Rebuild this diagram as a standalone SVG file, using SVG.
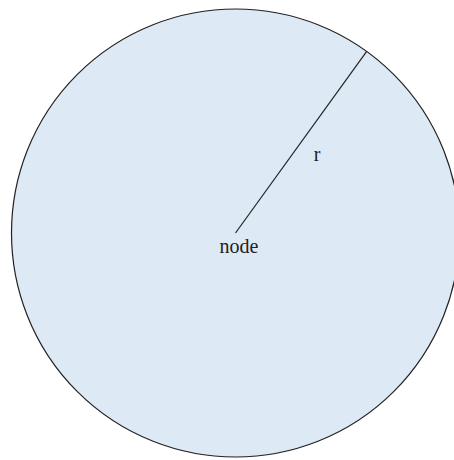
<svg xmlns="http://www.w3.org/2000/svg" width="454" height="460" viewBox="0 0 454 460">
<style>
text{font-family:"Liberation Serif","DejaVu Serif",serif;fill:#222;text-anchor:middle}
</style>
<rect width="454" height="460" fill="#fff"/>
<g id="node">
<circle cx="235.5" cy="233" r="224" fill="#dde9f4" stroke="#222" stroke-width="1.2"/>
<text x="239" y="253" font-size="20">node</text>
</g>
<g id="connectors">
<line x1="235.5" y1="233" x2="366.7" y2="51.3" stroke="#222" stroke-width="1.2"/>
<text x="317" y="161" font-size="20">r</text>
</g>
</svg>
